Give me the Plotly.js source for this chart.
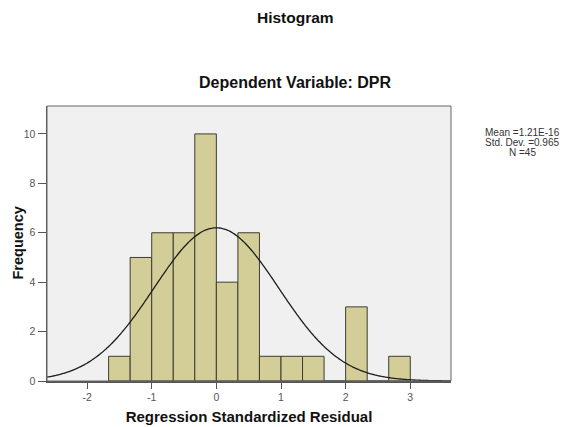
<!DOCTYPE html>
<html>
<head>
<meta charset="utf-8">
<script src="https://cdn.plot.ly/plotly-3.0.1.min.js"></script>
<style>html,body{margin:0;padding:0;background:#fff;}#chart{width:562px;height:427px;}</style>
</head>
<body>
<div id="chart"></div>
<script>
// Histogram bins (centres of bins of width 1/3) and frequencies
const binCenters = [-1.5, -1.1667, -0.8333, -0.5, -0.1667, 0.1667, 0.5, 0.8333, 1.1667, 1.5, 1.8333, 2.1667, 2.5, 2.8333];
const frequencies = [1, 5, 6, 6, 10, 4, 6, 1, 1, 1, 0, 3, 0, 1];
const binWidth = 1 / 3;
// Summary statistics shown on the chart
const statMean = 1.21e-16;
const statSD = 0.965;
const statN = 45;
const statLines = ['Mean =1.21E-16', 'Std. Dev. =0.965', 'N =45'];
const xTicks = [-2, -1, 0, 1, 2, 3];
const xTickText = ['-2', '-1', '0', '1', '2', '3'];
const yTicks = [0, 2, 4, 6, 8, 10];

// Normal curve implied by the chart's stated mean / SD / N
const curveX = [], curveY = [];
for (let i = 0; i <= 300; i++) {
  const x = -2.7 + i * (3.9 + 2.7) / 300;
  curveX.push(x);
  const z = (x - statMean) / statSD;
  curveY.push(statN * binWidth * Math.exp(-0.5 * z * z) / (statSD * Math.sqrt(2 * Math.PI)));
}

const font = 'Arial, "Liberation Sans", sans-serif';
const W = 562, ML = 47, MR = 111;
const plotW = W - ML - MR;
const titleX = (295 - ML) / plotW;      // titles centred at x≈295 px
const statX = (522 - ML) / plotW;       // stats box centred at x≈522 px
const yTitleX = (17 - ML) / plotW;      // y title centred at x≈17 px

const data = [
  {
    type: 'bar', x: binCenters, y: frequencies, width: binWidth,
    marker: {color: '#d3ce97', line: {color: '#3c3c30', width: 1}},
    hoverinfo: 'x+y'
  },
  {
    type: 'scatter', mode: 'lines', x: curveX, y: curveY,
    line: {color: '#1e1e1e', width: 1.3, shape: 'spline'}
  }
];

const annotations = [
  {xref: 'paper', yref: 'paper', x: titleX, y: 1, yshift: 89, xanchor: 'center', yanchor: 'middle', showarrow: false,
   text: '<b>Histogram</b>', font: {size: 15.5, color: '#111'}},
  {xref: 'paper', yref: 'paper', x: titleX, y: 1, yshift: 24, xanchor: 'center', yanchor: 'middle', showarrow: false,
   text: '<b>Dependent Variable: DPR</b>', font: {size: 16, color: '#111'}},
  {xref: 'paper', yref: 'paper', x: yTitleX, y: 0.5, xanchor: 'center', yanchor: 'middle', showarrow: false,
   textangle: -90, text: '<b>Frequency</b>', font: {size: 14.5, color: '#111'}}
];
statLines.forEach((t, i) => {
  annotations.push({xref: 'paper', yref: 'paper', x: statX, y: 1, yshift: -(26 + i * 10), xanchor: 'center', yanchor: 'middle',
    showarrow: false, text: t, font: {size: 10, color: '#333'}});
});

const layout = {
  width: 562, height: 427,
  margin: {l: ML, r: MR, t: 106, b: 46},
  paper_bgcolor: '#ffffff', plot_bgcolor: '#f0f0f0',
  showlegend: false,
  font: {family: font, color: '#333'},
  xaxis: {
    range: [-2.62, 3.63], tickvals: xTicks, ticktext: xTickText, ticks: 'outside', ticklen: 6, tickcolor: '#555', tickwidth: 1,
    showgrid: false, zeroline: false, showline: true, linecolor: '#555', linewidth: 1.5,
    tickfont: {size: 10.5, color: '#555'},
    title: {text: '<b>Regression Standardized Residual</b>', font: {size: 15, color: '#111'}, standoff: 9}
  },
  yaxis: {
    range: [0, 11.13], tickvals: yTicks, ticks: 'outside', ticklen: 8, tickcolor: '#555', tickwidth: 1,
    showgrid: false, zeroline: false, showline: true, linecolor: '#555', linewidth: 1.5,
    tickfont: {size: 10.5, color: '#555'},
    title: {text: ''}
  },
  shapes: [
    {type: 'rect', xref: 'paper', yref: 'paper', x0: 0, x1: 1, y0: 0, y1: 1, line: {color: '#666', width: 1}}
  ],
  annotations: annotations
};
Plotly.newPlot('chart', data, layout, {displayModeBar: false, staticPlot: true});
</script>
</body>
</html>
